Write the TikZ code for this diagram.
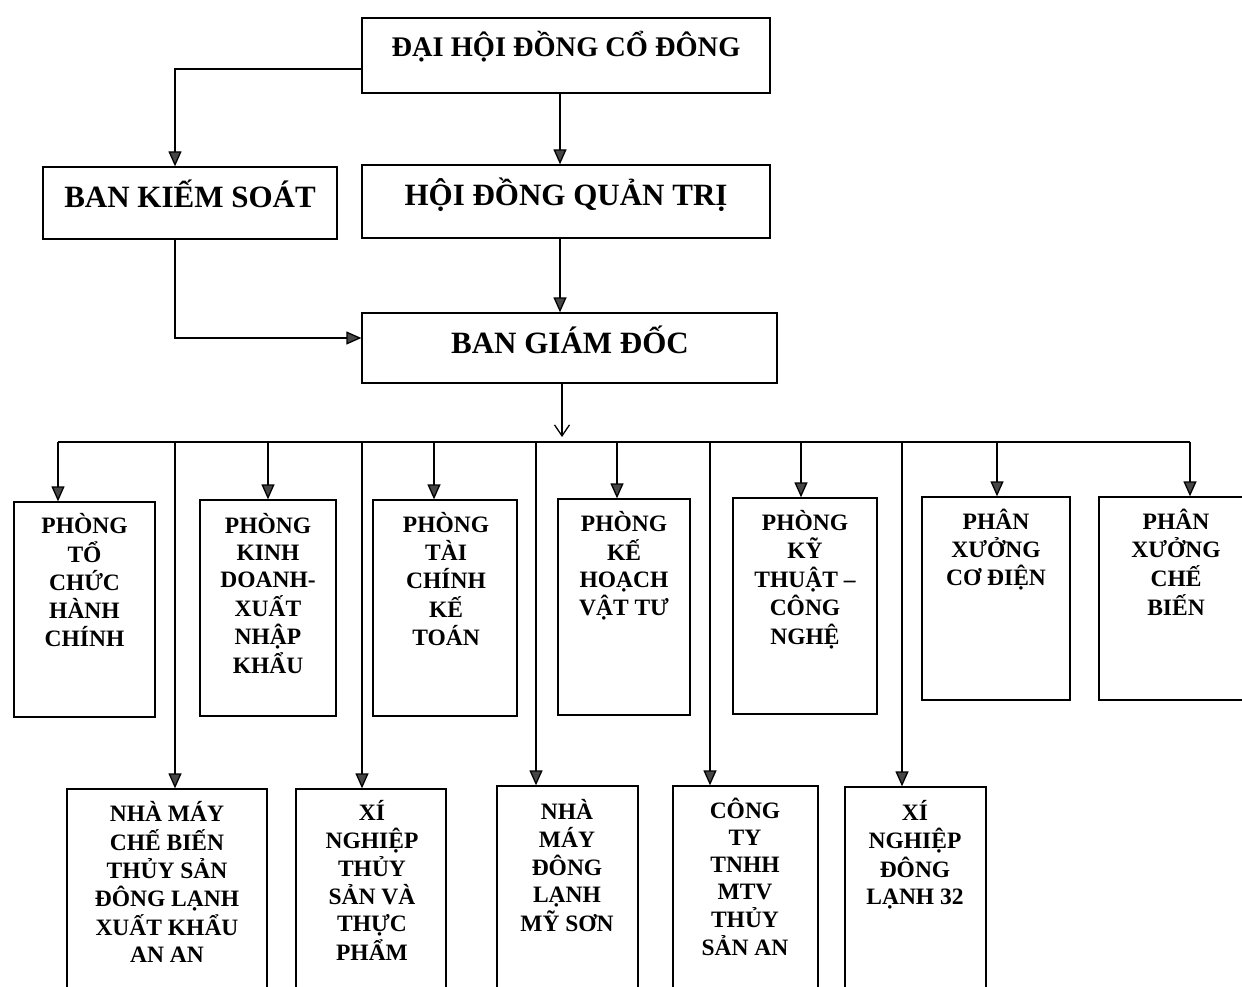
\documentclass[tikz,border=0pt]{standalone}
\usepackage{fontspec}
\setmainfont{Liberation Serif}
\usetikzlibrary{arrows.meta}
\begin{document}
\begin{tikzpicture}[x=1pt,y=-1pt,
  box/.style={draw, line width=1.3pt, inner sep=0pt},
  big/.style={anchor=base, inner sep=0pt, font=\bfseries\fontsize{31}{36}\selectfont},
  sm/.style={anchor=base, inner sep=0pt, font=\bfseries\fontsize{23.5}{27}\selectfont},
  ln/.style={line width=1.3pt},
  arr/.style={line width=1.3pt, -{Triangle[length=15pt,width=13pt,fill=gray!55!black]}},
  vee/.style={line width=1.3pt, -{Straight Barb[length=11pt,width=15pt,line width=1.3pt]}}]
\useasboundingbox (0,0) rectangle (1242,987);
\clip (0,0) rectangle (1242,987);
\fill[white] (0,0) rectangle (1242,987);
% top boxes
\node[box, minimum width=408pt, minimum height=75pt] (dh) at (566,55.5) {};
\node[big, font=\bfseries\fontsize{28.4}{32}\selectfont] (dht) at (566,56.5) {ĐẠI HỘI ĐỒNG CỔ ĐÔNG};
\node[box, minimum width=294pt, minimum height=72pt] (bks) at (190,203) {};
\node[big] (bkst) at (190,207.5) {BAN KIẾM SOÁT};
\node[box, minimum width=408pt, minimum height=73pt] (hd) at (566,201.5) {};
\node[big] (hdt) at (566,205.5) {HỘI ĐỒNG QUẢN TRỊ};
\node[box, minimum width=415pt, minimum height=70pt] (bgd) at (569.5,348) {};
\node[big] (bgdt) at (570,353.5) {BAN GIÁM ĐỐC};
% top row of departments
\node[box, minimum width=141pt, minimum height=215pt] (t1) at (84.5,609.5) {};
\node[sm] (t1t) at (84.5,533) {\begin{tabular}[t]{@{}c@{}}PHÒNG\\TỔ\\CHỨC\\HÀNH\\CHÍNH\end{tabular}};
\node[box, minimum width=136pt, minimum height=216pt] (t2) at (268,608) {};
\node[sm] (t2t) at (268,533) {\begin{tabular}[t]{@{}c@{}}PHÒNG\\KINH\\DOANH-\\XUẤT\\NHẬP\\KHẨU\end{tabular}};
\node[box, minimum width=144pt, minimum height=216pt] (t3) at (445,608) {};
\node[sm] (t3t) at (446,532) {\begin{tabular}[t]{@{}c@{}}PHÒNG\\TÀI\\CHÍNH\\KẾ\\TOÁN\end{tabular}};
\node[box, minimum width=132pt, minimum height=216pt] (t4) at (624,607) {};
\node[sm] (t4t) at (624,531) {\begin{tabular}[t]{@{}c@{}}PHÒNG\\KẾ\\HOẠCH\\VẬT TƯ\end{tabular}};
\node[box, minimum width=144pt, minimum height=216pt] (t5) at (805,606) {};
\node[sm] (t5t) at (805,530) {\begin{tabular}[t]{@{}c@{}}PHÒNG\\KỸ\\THUẬT –\\CÔNG\\NGHỆ\end{tabular}};
\node[box, minimum width=148pt, minimum height=203pt] (t6) at (996,598.5) {};
\node[sm] (t6t) at (996,529) {\begin{tabular}[t]{@{}c@{}}PHÂN\\XƯỞNG\\CƠ ĐIỆN\end{tabular}};
\node[box, minimum width=154pt, minimum height=203pt] (t7) at (1176,598.5) {};
\node[sm] (t7t) at (1176,529) {\begin{tabular}[t]{@{}c@{}}PHÂN\\XƯỞNG\\CHẾ\\BIẾN\end{tabular}};
% bottom row
\node[box, minimum width=200pt, minimum height=230pt] (b1) at (167,904) {};
\node[sm] (b1t) at (167,821) {\begin{tabular}[t]{@{}c@{}}NHÀ MÁY\\CHẾ BIẾN\\THỦY SẢN\\ĐÔNG LẠNH\\XUẤT KHẨU\\AN AN\end{tabular}};
\node[box, minimum width=150pt, minimum height=230pt] (b2) at (371,904) {};
\node[sm] (b2t) at (372,820) {\begin{tabular}[t]{@{}c@{}}XÍ\\NGHIỆP\\THỦY\\SẢN VÀ\\THỰC\\PHẨM\end{tabular}};
\node[box, minimum width=141pt, minimum height=236pt] (b3) at (567.5,904) {};
\node[sm] (b3t) at (567,819) {\begin{tabular}[t]{@{}c@{}}NHÀ\\MÁY\\ĐÔNG\\LẠNH\\MỸ SƠN\end{tabular}};
\node[box, minimum width=145pt, minimum height=236pt] (b4) at (745.5,904) {};
\node[sm] (b4t) at (745,818) {\begin{tabular}[t]{@{}c@{}}CÔNG\\TY\\TNHH\\MTV\\THỦY\\SẢN AN\end{tabular}};
\node[box, minimum width=141pt, minimum height=232pt] (b5) at (915.5,903) {};
\node[sm] (b5t) at (915,820) {\begin{tabular}[t]{@{}c@{}}XÍ\\NGHIỆP\\ĐÔNG\\LẠNH 32\end{tabular}};
% connectors in the upper part
\coordinate (k1) at (175,69);
\coordinate (d2) at (560,0);
\coordinate (k2) at (175,338);
\coordinate (v) at (562,437);
\draw[arr] (dh.west |- k1) -- (k1) -- (k1 |- bks.north);
\draw[arr] (dh.south -| d2) -- (hd.north -| d2);
\draw[arr] (hd.south -| d2) -- (bgd.north -| d2);
\draw[arr] (bks.south -| k2) -- (k2) -- (k2 -| bgd.west);
\draw[vee] (bgd.south -| v) -- (v);
% bus
\coordinate (busL) at (58,442);
\coordinate (busR) at (1190,442);
\draw[ln] (busL) -- (busR);
\coordinate (a1) at (58,442);
\coordinate (a2) at (268,442);
\coordinate (a3) at (434,442);
\coordinate (a4) at (617,442);
\coordinate (a5) at (801,442);
\coordinate (a6) at (997,442);
\coordinate (a7) at (1190,442);
\draw[arr] (a1) -- (a1 |- t1.north);
\draw[arr] (a2) -- (a2 |- t2.north);
\draw[arr] (a3) -- (a3 |- t3.north);
\draw[arr] (a4) -- (a4 |- t4.north);
\draw[arr] (a5) -- (a5 |- t5.north);
\draw[arr] (a6) -- (a6 |- t6.north);
\draw[arr] (a7) -- (a7 |- t7.north);
\coordinate (e1) at (175,442);
\coordinate (e2) at (362,442);
\coordinate (e3) at (536,442);
\coordinate (e4) at (710,442);
\coordinate (e5) at (902,442);
\draw[arr] (e1) -- (e1 |- b1.north);
\draw[arr] (e2) -- (e2 |- b2.north);
\draw[arr] (e3) -- (e3 |- b3.north);
\draw[arr] (e4) -- (e4 |- b4.north);
\draw[arr] (e5) -- (e5 |- b5.north);
\end{tikzpicture}
\end{document}
